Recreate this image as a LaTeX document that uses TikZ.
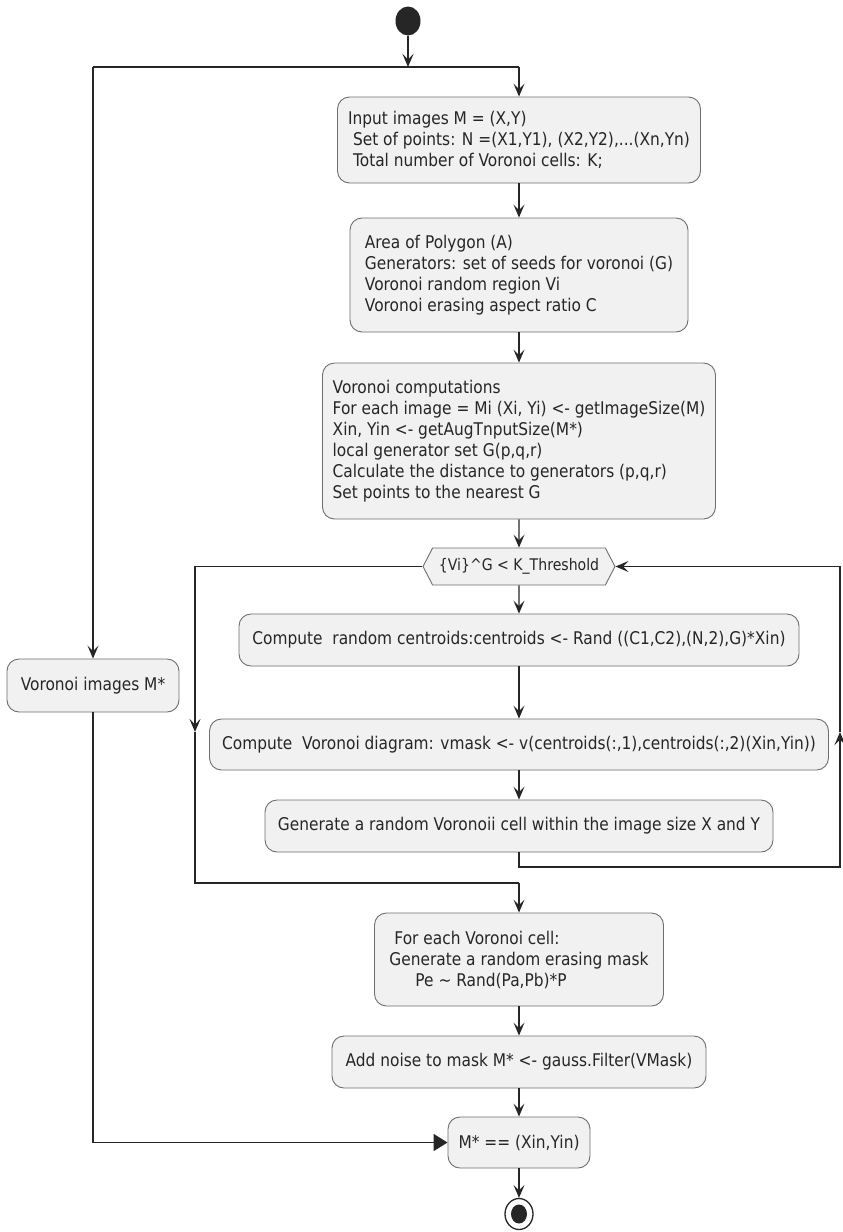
\documentclass[tikz,border=0pt]{standalone}
\usepackage{fontspec}
\setmainfont{DejaVu Sans}[FakeStretch=0.88]
\usetikzlibrary{arrows.meta,shapes.symbols,shapes.geometric}
\definecolor{boxfill}{HTML}{F1F1F1}
\definecolor{boxline}{HTML}{6E6E6E}
\definecolor{ink}{HTML}{262626}
\begin{document}
\begin{tikzpicture}[x=1pt,y=-1pt,
  font=\fontsize{17.5pt}{21pt}\selectfont, text=ink,
  act/.style={draw=boxline, fill=boxfill, line width=0.9pt, rounded corners=12pt,
    align=left, inner sep=0pt},
  tip/.style={-{Stealth[length=13pt,width=11pt,inset=5.5pt]}},
  flow/.style={draw=ink, line width=1.1pt, tip},
  link/.style={draw=ink, line width=1.1pt},
  bar/.style={draw=ink, line width=1.7pt},
  bigtip/.style={-{Triangle[length=14pt,width=17pt]}},
]
\useasboundingbox (0,0) rectangle (843,1232);

% start and split
\node[ellipse, fill=ink, minimum width=25pt, minimum height=29pt, inner sep=0pt] (start) at (408,21) {};
\coordinate (splitL) at (93,67);
\coordinate (splitM) at (408,67);
\coordinate (splitR) at (519,67);

% main column
\node[act, minimum width=363pt, minimum height=86pt] (in1) at (519,140)
  {Input images M = (X,Y)\\
   \hspace*{5pt}Set of points: N =(X1,Y1), (X2,Y2),...(Xn,Yn)\\
   \hspace*{5pt}Total number of Voronoi cells: K;};
\node[act, minimum width=338pt, minimum height=114pt] (params) at (519,275)
  {Area of Polygon (A)\\
   Generators: set of seeds for voronoi (G)\\
   Voronoi random region Vi\\
   Voronoi erasing aspect ratio C};
\node[act, minimum width=393pt, minimum height=156pt] (comp) at (519,441)
  {Voronoi computations\\
   For each image = Mi (Xi, Yi) <- getImageSize(M)\\
   Xin, Yin <- getAugTnputSize(M*)\\
   local generator set G(p,q,r)\\
   Calculate the distance to generators (p,q,r)\\
   Set points to the nearest G};
\node[shape=signal, signal to=west and east, signal pointer angle=125,
  draw=boxline, fill=boxfill, line width=0.9pt, inner sep=0pt,
  minimum width=192pt, minimum height=37pt,
  font=\fontsize{16pt}{19pt}\selectfont] (cond) at (519,566.5)
  {\{Vi\}\textasciicircum G < K\_Threshold};
\node[act, minimum width=560pt, minimum height=52pt] (cent) at (519,640)
  {Compute\ \ random centroids:centroids <- Rand ((C1,C2),(N,2),G)*Xin)};
\node[act, minimum width=619pt, minimum height=51pt] (vor) at (519,744.5)
  {Compute\ \ Voronoi diagram: vmask <- v(centroids(:,1),centroids(:,2)(Xin,Yin))};
\node[act, minimum width=508pt, minimum height=52pt] (cell) at (519,826)
  {Generate a random Voronoii cell within the image size X and Y};
\node[act, minimum width=289pt, minimum height=93pt] (mask) at (519,959.5)
  {\hspace*{5pt}For each Voronoi cell:\\
   Generate a random erasing mask\\
   \hspace*{26pt}Pe \textasciitilde{} Rand(Pa,Pb)*P};
\node[act, minimum width=374pt, minimum height=52pt] (noise) at (519,1062)
  {Add noise to mask M* <- gauss.Filter(VMask)};
\node[act, minimum width=142pt, minimum height=51pt] (eq) at (519,1142.5)
  {M* == (Xin,Yin)};
\node[ellipse, draw=ink, line width=1.3pt, minimum width=28pt, minimum height=31pt, inner sep=0pt] (stop) at (519,1214) {};
\node[ellipse, fill=ink, minimum width=16pt, minimum height=19pt, inner sep=0pt] (stopdot) at (stop) {};

% side branch
\node[act, minimum width=172pt, minimum height=53pt] (vimg) at (93,685.5)
  {Voronoi images M*};

% loop routing points
\coordinate (loopL) at (195,566.5);
\coordinate (loopLmid) at (195,732);
\coordinate (loopLbot) at (195,883);
\coordinate (loopJoin) at (519,883);
\coordinate (loopRbot) at (840,867);
\coordinate (loopRmid) at (840,732);
\coordinate (loopRtop) at (840,566.5);
\coordinate (mergeL) at (93,1142.5);

% split
\draw[flow] (start) -- (splitM);
\draw[bar] (splitL) -- (splitR);
\draw[flow] (splitR) -- (in1);
\draw[bar, tip] (splitL) -- (vimg);

% main sequence
\draw[flow] (in1) -- (params);
\draw[flow] (params) -- (comp);
\draw[flow] (comp) -- (cond);
\draw[flow] (cond) -- (cent);
\draw[flow] (cent) -- (vor);
\draw[flow] (vor) -- (cell);

% repeat loop back to the condition
\draw[flow] (cell.south) |- (loopRbot) -- (loopRmid);
\draw[flow] (loopRmid) -- (loopRtop) -- (cond.east);

% loop exit
\draw[flow] (cond.west) -- (loopL) -- (loopLmid);
\draw[link] (loopLmid) -- (loopLbot) -- (loopJoin);
\draw[flow] (loopJoin) -- (mask);
\draw[flow] (mask) -- (noise);
\draw[flow] (noise) -- (eq);
\draw[flow] (eq) -- (stop);

% merge
\draw[bar, bigtip] (vimg.south) -- (mergeL) -- (eq.west);
\end{tikzpicture}
\end{document}
